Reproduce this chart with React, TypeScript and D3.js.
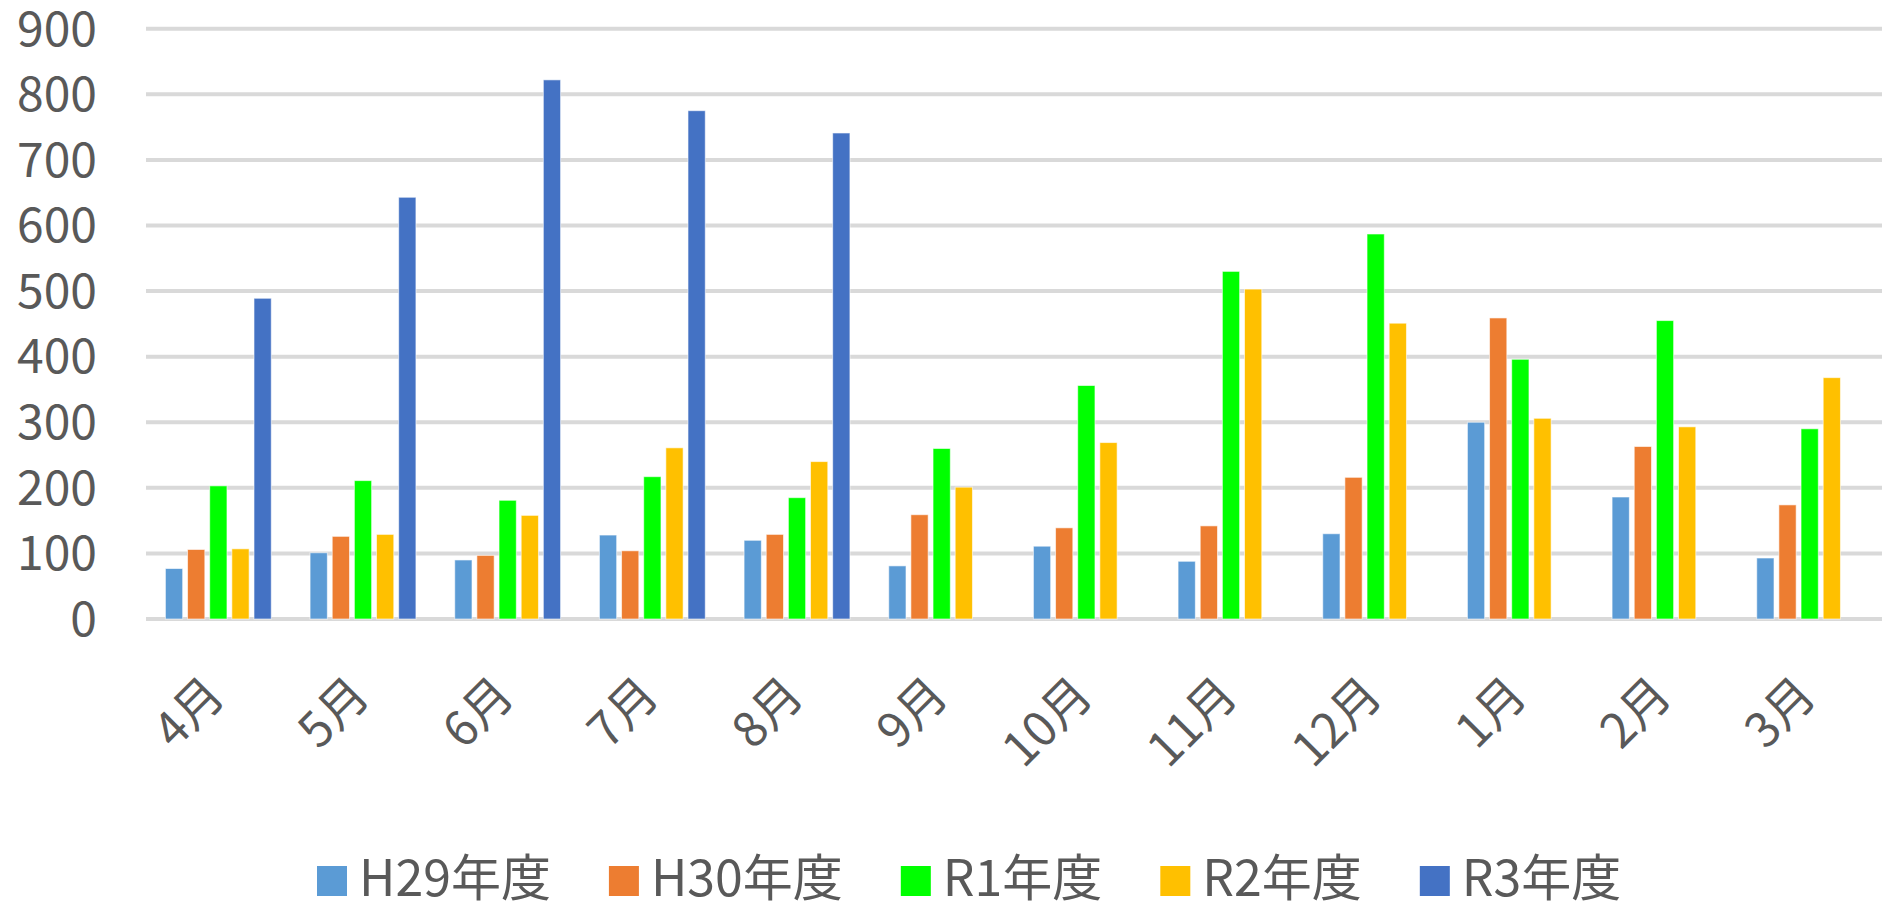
import React, { useEffect, useRef } from "react";
import * as d3 from "d3";

const months = ["4月", "5月", "6月", "7月", "8月", "9月", "10月", "11月", "12月", "1月", "2月", "3月"];
const seriesNames = ["H29年度", "H30年度", "R1年度", "R2年度", "R3年度"];
const seriesColors = ["#5B9BD5", "#ED7D31", "#00FF00", "#FFC000", "#4472C4"];
const h29 = [77, 101, 90, 128, 120, 81, 111, 88, 130, 300, 186, 93];
const h30 = [106, 126, 97, 104, 129, 159, 139, 142, 216, 459, 263, 174];
const r1 = [203, 211, 181, 217, 185, 260, 356, 530, 587, 396, 455, 290];
const r2 = [107, 129, 158, 261, 240, 201, 269, 503, 451, 306, 293, 368];
const r3: (number | null)[] = [489, 643, 822, 775, 741, null, null, null, null, null, null, null];
const yTicks = [0, 100, 200, 300, 400, 500, 600, 700, 800, 900];

const W = 1890;
const H = 907;
const FONT = "'Noto Sans CJK JP', 'Noto Sans', sans-serif";
const TEXT = "#595959";

export default function App() {
  const ref = useRef<SVGSVGElement | null>(null);

  useEffect(() => {
    const svg = d3.select(ref.current);
    svg.selectAll("*").remove();

    const plotLeft = 146, plotRight = 1882, plotTop = 28.7, plotBottom = 619;
    const x0 = d3.scaleBand<string>().domain(months).range([plotLeft, plotRight]).paddingInner(0).paddingOuter(0);
    const x1 = d3.scaleBand<string>().domain(seriesNames).range([0, x0.bandwidth()]).paddingInner(0.22).paddingOuter(0.876);
    const y = d3.scaleLinear().domain([0, 900]).range([plotBottom, plotTop]);

    // gridlines
    svg.append("g").selectAll("line").data(yTicks).join("line")
      .attr("x1", plotLeft).attr("x2", plotRight)
      .attr("y1", (d) => y(d)).attr("y2", (d) => y(d))
      .attr("stroke", "#D9D9D9").attr("stroke-width", 4);

    // y labels
    svg.append("g").selectAll("text").data(yTicks).join("text")
      .attr("x", 97).attr("y", (d) => y(d)).attr("dy", "0.35em")
      .attr("text-anchor", "end")
      .attr("font-family", FONT).attr("font-size", 48).attr("fill", TEXT)
      .text((d) => String(d));

    const all = [h29, h30, r1, r2, r3];
    const bars: { m: string; s: string; v: number; c: string }[] = [];
    all.forEach((arr, si) => {
      arr.forEach((v, mi) => {
        if (v != null) bars.push({ m: months[mi], s: seriesNames[si], v, c: seriesColors[si] });
      });
    });
    svg.append("g").selectAll("rect").data(bars).join("rect")
      .attr("x", (d) => (x0(d.m) as number) + (x1(d.s) as number))
      .attr("width", x1.bandwidth())
      .attr("y", (d) => y(d.v))
      .attr("height", (d) => y(0) - y(d.v))
      .attr("fill", (d) => d.c)
      .attr("stroke", "#FFFFFF").attr("stroke-width", 1).attr("stroke-opacity", 0.6);

    // x labels
    svg.append("g").selectAll("text").data(months).join("text")
      .attr("transform", (d) => `translate(${(x0(d) as number) + x0.bandwidth() / 2 - 3},${686}) rotate(-45)`)
      .attr("dy", "0.35em")
      .attr("text-anchor", "end")
      .attr("font-family", FONT).attr("font-size", 48).attr("fill", TEXT)
      .text((d) => d);

    // legend
    const lg = svg.append("g");
    const items = lg.selectAll("g").data(seriesNames).join("g");
    items.append("rect").attr("width", 30).attr("height", 30).attr("y", 866)
      .attr("fill", (_d, i) => seriesColors[i]);
    const texts = items.append("text").attr("y", 878).attr("dy", "0.35em")
      .attr("font-family", FONT).attr("font-size", 50).attr("fill", TEXT)
      .text((d) => d);
    const widths: number[] = [];
    texts.each(function () { widths.push((this as SVGTextElement).getComputedTextLength()); });
    let cur = 317;
    items.each(function (_d, i) {
      const g = d3.select(this);
      g.select("rect").attr("x", cur);
      g.select("text").attr("x", cur + 42);
      cur += 42 + widths[i] + 58;
    });
  }, []);

  return (
    <svg ref={ref} width={W} height={H} style={{ position: "absolute", left: 0, top: 0, background: "#fff" }} />
  );
}
